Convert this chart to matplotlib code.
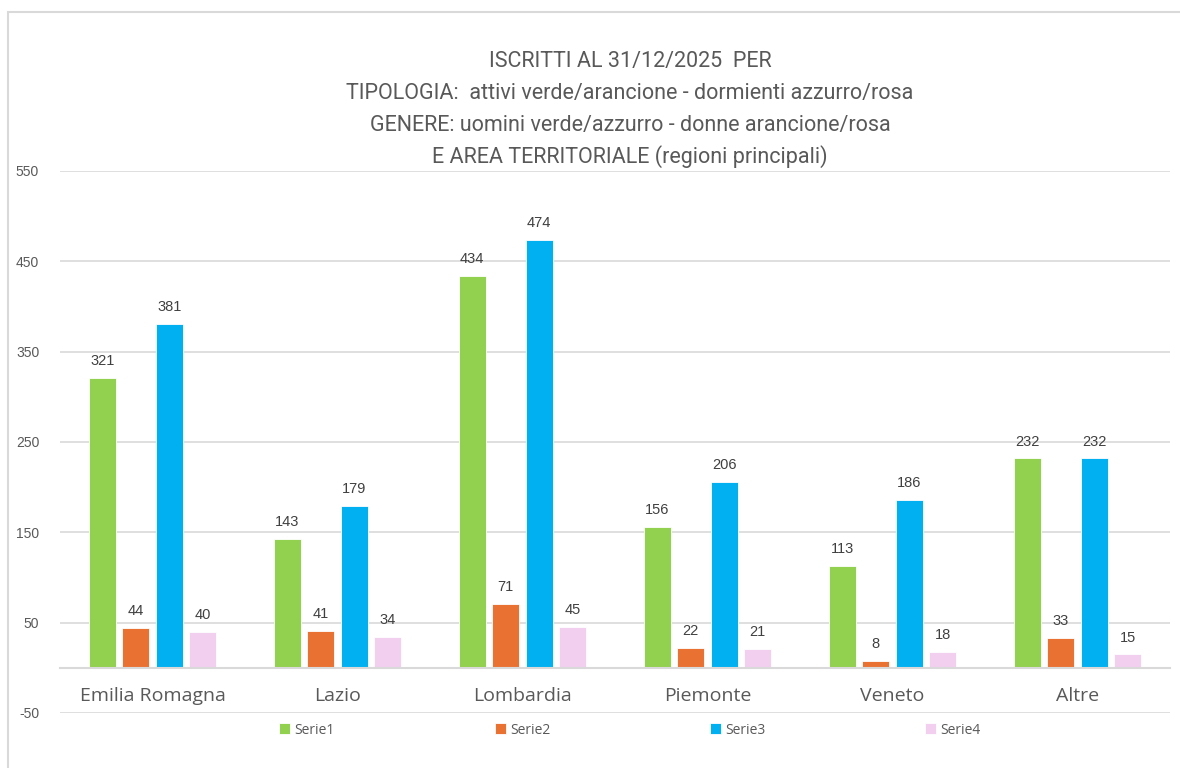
import matplotlib
matplotlib.use("Agg")
import matplotlib.pyplot as plt
from matplotlib.patches import Rectangle
import numpy as np

categories = ["Emilia Romagna", "Lazio", "Lombardia", "Piemonte", "Veneto", "Altre"]
serie1 = [321, 143, 434, 156, 113, 232]
serie2 = [44, 41, 71, 22, 8, 33]
serie3 = [381, 179, 474, 206, 186, 232]
serie4 = [40, 34, 45, 21, 18, 15]
series_names = ["Serie1", "Serie2", "Serie3", "Serie4"]
series = [serie1, serie2, serie3, serie4]
colors = ["#92D050", "#E97132", "#00B0F0", "#F2CEEF"]
yticks = [-50, 50, 150, 250, 350, 450, 550]
title_lines = [
    "ISCRITTI AL 31/12/2025  PER",
    "TIPOLOGIA:  attivi verde/arancione - dormienti azzurro/rosa",
    "GENERE: uomini verde/azzurro - donne arancione/rosa",
    "E AREA TERRITORIALE (regioni principali)",
]

W, H = 1180, 768
fig = plt.figure(figsize=(W / 100, H / 100), dpi=100)
plt.rcParams['font.family'] = ['Roboto', 'DejaVu Sans']

def fx(px):
    return px / W

def fy(py):
    return 1 - py / H

# outer chart frame
fig.patches.append(Rectangle((fx(8), fy(800)), fx(1250 - 8), fy(12) - fy(800),
                             transform=fig.transFigure, fill=False,
                             edgecolor="#D9D9D9", linewidth=1.5))

ax = fig.add_axes([fx(60), fy(713), fx(1170) - fx(60), fy(171) - fy(713)])
gray = "#595959"
x = np.arange(len(categories))
width = 0.145
step = 0.181
for j, (vals, col, name) in enumerate(zip(series, colors, series_names)):
    pos = x + (j - 1.5) * step
    bars = ax.bar(pos, vals, width, color=col, label=name, edgecolor="white",
                  linewidth=0.6, zorder=3)
    for b, v in zip(bars, vals):
        ax.annotate(str(v), (b.get_x() + b.get_width() / 2, v),
                    xytext=(0, 7), textcoords="offset points",
                    ha="center", va="bottom", fontsize=10.5,
                    color="#404040", family=['Liberation Sans', 'DejaVu Sans'])

ax.set_ylim(-50, 550)
ax.set_xlim(-0.5, len(categories) - 0.5)
ax.set_yticks(yticks)
ax.set_yticklabels([str(t) for t in yticks], fontsize=10, color=gray,
                   family=['Liberation Sans', 'DejaVu Sans'])
ax.tick_params(axis="y", length=0, pad=15)
ax.grid(axis="y", color="#D9D9D9", linewidth=1.2, zorder=0)
ax.set_axisbelow(True)
for s in ["top", "right", "left"]:
    ax.spines[s].set_visible(False)
ax.spines["bottom"].set_position(("data", 0))
ax.spines["bottom"].set_color("#D9D9D9")
ax.spines["bottom"].set_linewidth(1.5)
ax.spines["bottom"].set_zorder(4)
ax.set_xticks(x)
ax.set_xticklabels(categories, fontsize=14, color=gray,
                   family=['Open Sans', 'DejaVu Sans'])
ax.tick_params(axis="x", length=0, pad=14)

for i, line in enumerate(title_lines):
    fig.text(fx(630), fy(62 + i * 31.5), line, ha="center", va="center",
             fontsize=15.5, color=gray)

leg = ax.legend(loc="center", bbox_to_anchor=(fx(630), fy(730)),
                bbox_transform=fig.transFigure, ncol=4, frameon=False,
                handlelength=0.8, handleheight=0.8,
                handletextpad=0.3, columnspacing=11.5,
                prop={'family': ['Open Sans', 'DejaVu Sans'], 'size': 10})
for t in leg.get_texts():
    t.set_color(gray)

fig.savefig("out.png", dpi=100, facecolor="white")
